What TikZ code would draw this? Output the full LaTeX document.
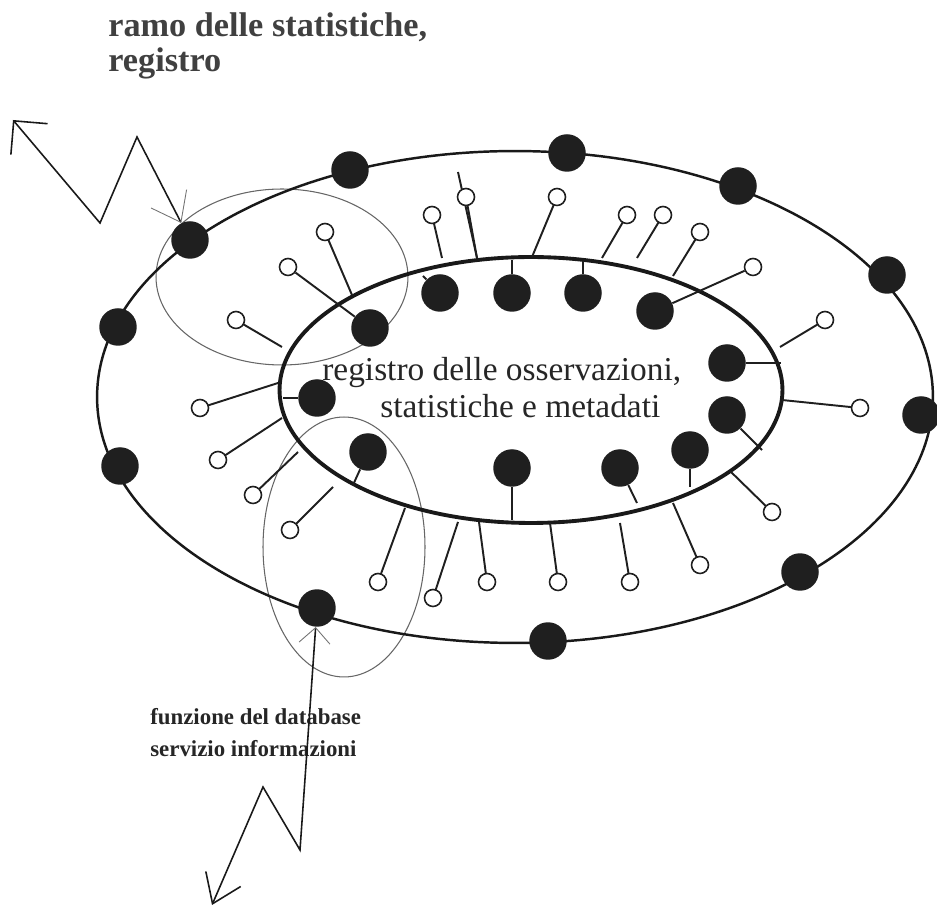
\documentclass[tikz,border=0pt]{standalone}
\usepackage{fontspec}
\setmainfont{Liberation Serif}
\usetikzlibrary{arrows.meta}

\begin{document}
\begin{tikzpicture}[x=0.02cm,y=-0.02cm,
  blackdot/.style={circle,fill=black!88,inner sep=0pt,minimum size=0.75cm},
  openring/.style={circle,draw=black!88,fill=white,line width=0.9pt,inner sep=0pt,minimum size=0.34cm},
  stick/.style={black!88,line width=1.1pt},
  bolt/.style={black!90,line width=0.9pt,line join=miter},
  thinring/.style={black!60,line width=0.6pt},
  farA/.tip={Straight Barb[length=0.48cm,width=0.96cm]},
  farB/.tip={Straight Barb[length=0.54cm,width=0.76cm]},
  nearA/.tip={Straight Barb[length=0.53cm,width=0.8cm,color=black!55,line width=0.5pt]},
  nearB/.tip={Straight Barb[length=0.31cm,width=0.62cm,color=black!55,line width=0.5pt]},
  every node/.style={inner sep=0pt}]
  \useasboundingbox (0,0) rectangle (937,911);

  \draw[thinring] (282,277) ellipse [x radius=2.52cm,y radius=1.76cm];
  \draw[thinring] (344,547) ellipse [x radius=1.62cm,y radius=2.6cm];
  \draw[black!90,line width=1.4pt] (515,397) ellipse [x radius=8.36cm,y radius=4.92cm];
  \draw[black!90,line width=2.2pt] (531,390) ellipse [x radius=5.03cm,y radius=2.66cm];

  \foreach \x/\y [count=\i] in {190/240,350/170,567/153,738/186,887/275,921/415,
      800/572,548/641,317/608,120/466,118/327}
    \node[blackdot] (rim\i) at (\x,\y) {};

  \foreach \x/\y [count=\i] in {440/293,512/293,583/293,655/311,727/363,727/415,
      690/450,620/468,512/468,368/452,317/398,370/328}
    \node[blackdot] (core\i) at (\x,\y) {};
  \foreach \i/\u/\v in {1/423/276,2/512/260,3/583/261,5/781/363,6/762/450,
      7/690/487,8/637/503,9/512/520,10/353/485,11/283/398} {
    \coordinate (cs\i) at (\u,\v);
    \draw[stick] (core\i) -- (cs\i);
  }

  \coordinate (ltop) at (458,172);
  \coordinate (lbot) at (477,258);
  \draw[stick] (lbot) -- (ltop);
  \foreach \x/\y/\u/\v [count=\i] in {432/215/442/258,466/197/477/258,557/197/532/257,
      627/215/602/258,663/215/637/258,700/232/673/276,825/320/780/347,860/408/782/400,
      772/512/730/471,700/565/673/503,630/582/620/523,558/582/550/523,487/582/479/522,
      433/598/458/522,378/582/405/508,290/530/333/487,253/495/298/452,218/460/282/418,
      200/408/278/383,236/320/282/347,325/232/352/295} {
    \coordinate (ls\i) at (\u,\v);
    \draw[stick] (ls\i) -- (\x,\y);
    \node[openring] (leaf\i) at (\x,\y) {};
  }
  \node[openring] (leafE) at (753,267) {};
  \node[openring] (leafW) at (288,267) {};
  \draw[stick] (core4) -- (leafE);
  \draw[stick] (core12) -- (leafW);

  \node[anchor=base west,font=\fontsize{19}{22}\selectfont,text=black!85] (regtop) at (322,381) {registro delle osservazioni,};
  \node[anchor=base west,font=\fontsize{19}{22}\selectfont,text=black!85] (regbot) at (380,418) {statistiche e metadati};
  \node[anchor=base west,font=\bfseries\fontsize{19.5}{22}\selectfont,text=black!75] (branch) at (108,37) {ramo delle statistiche,};
  \node[anchor=base west,font=\bfseries\fontsize{19.5}{22}\selectfont,text=black!75] (branchreg) at (108,72) {registro};
  \node[anchor=base west,font=\bfseries\fontsize{13}{16}\selectfont,text=black!85] (dbfun) at (150,725) {funzione del database};
  \node[anchor=base west,font=\bfseries\fontsize{13}{16}\selectfont,text=black!85] (dbsrv) at (150,757) {servizio informazioni};

  \coordinate (boltA1) at (137,137);
  \coordinate (boltA2) at (100,223);
  \coordinate (boltAend) at (13,120);
  \coordinate (boltB1) at (300,850);
  \coordinate (boltB2) at (263,787);
  \coordinate (boltBend) at (212,905);
  \draw[bolt,nearA-farA] (rim1) -- (boltA1) -- (boltA2) -- (boltAend);
  \draw[bolt,nearB-farB] (rim9) -- (boltB1) -- (boltB2) -- (boltBend);
\end{tikzpicture}
\end{document}
